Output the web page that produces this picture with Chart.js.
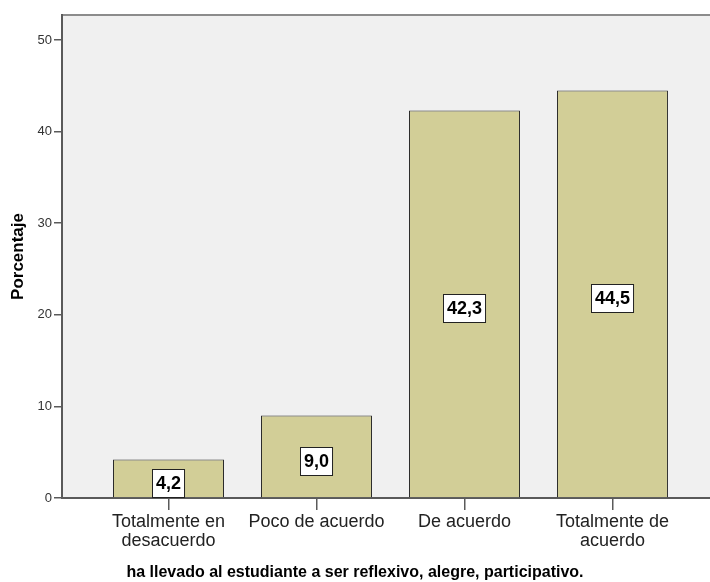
<!DOCTYPE html>
<html>
<head>
<meta charset="utf-8">
<script src="https://cdn.jsdelivr.net/npm/chart.js@4"></script>
<style>
  body { margin: 0; background: #fff; }
  #wrap { width: 710px; height: 582px; overflow: hidden; }
</style>
</head>
<body>
<div id="wrap"><canvas id="myChart" width="710" height="582"></canvas></div>
<script>
const categories = [
    ['Totalmente en', 'desacuerdo'],
    ['Poco de acuerdo'],
    ['De acuerdo'],
    ['Totalmente de', 'acuerdo']
];
const porcentajes = [4.2, 9.0, 42.3, 44.5];
const yTicks = [0, 10, 20, 30, 40, 50];
const xTitle = 'ha llevado al estudiante a ser reflexivo, alegre, participativo.';
const yTitle = 'Porcentaje';

const barFill = 'rgb(210,206,151)';
const axisColor = '#5a5a5a';

// grey plot background + top border
const frame = {
    id: 'frame',
    beforeDraw(chart) {
        const { ctx, chartArea: a } = chart;
        ctx.save();
        ctx.fillStyle = '#f0f0f0';
        ctx.fillRect(a.left, a.top, a.right - a.left, a.bottom - a.top);
        ctx.strokeStyle = '#8c8c8c';
        ctx.lineWidth = 2;
        ctx.beginPath();
        ctx.moveTo(a.left, a.top);
        ctx.lineTo(a.right, a.top);
        ctx.stroke();
        ctx.restore();
    }
};

// white boxes with the value roughly in the middle of each bar
const valueBoxes = {
    id: 'valueBoxes',
    afterDatasetsDraw(chart) {
        const { ctx } = chart;
        const yScale = chart.scales.y;
        const meta = chart.getDatasetMeta(0);
        ctx.save();
        ctx.font = 'bold 18px "Liberation Sans", Arial, sans-serif';
        ctx.textAlign = 'center';
        ctx.textBaseline = 'middle';
        meta.data.forEach((bar, i) => {
            const v = porcentajes[i];
            const txt = v.toFixed(1).replace('.', ',');
            const cx = bar.x;
            const cy = yScale.getPixelForValue(v / 2) + 4;
            const w = ctx.measureText(txt).width + 7;
            const h = 28;
            const x0 = Math.round(cx - w / 2) + 0.5;
            const y0 = Math.round(cy - h / 2) + 0.5;
            ctx.fillStyle = '#fff';
            ctx.fillRect(x0, y0, w, h);
            ctx.strokeStyle = '#222';
            ctx.lineWidth = 1;
            ctx.strokeRect(x0, y0, w, h);
            ctx.fillStyle = '#000';
            ctx.fillText(txt, cx, cy + 1);
        });
        ctx.restore();
    }
};

const chart = new Chart(document.getElementById('myChart'), {
    type: 'bar',
    data: {
        datasets: [{
            data: porcentajes.map((v, i) => ({ x: i + 1, y: v })),
            backgroundColor: barFill,
            borderColor: '#2a2a2a',
            borderWidth: 1,
            barPercentage: 0.75,
            categoryPercentage: 1
        }]
    },
    options: {
        responsive: false,
        animation: false,
        layout: { padding: { top: 15, left: 0, right: 0, bottom: 0 } },
        plugins: {
            legend: { display: false },
            tooltip: { enabled: false },
            title: {
                display: true,
                position: 'bottom',
                text: xTitle,
                color: '#000',
                padding: { top: 0, bottom: 0 },
                font: { family: '"Liberation Sans", Arial, sans-serif', size: 16, weight: 'bold', lineHeight: 1.2 }
            }
        },
        scales: {
            x: {
                type: 'linear',
                offset: false,
                min: 0.2804,
                max: 4.659,
                afterBuildTicks: s => { s.ticks = categories.map((c, i) => ({ value: i + 1 })); },
                afterFit: s => { s.height = 64.8; },
                ticks: {
                    callback: v => categories[v - 1],
                    color: '#222',
                    padding: 3,
                    maxRotation: 0,
                    autoSkip: false,
                    font: { family: '"Liberation Sans", Arial, sans-serif', size: 18, lineHeight: 1.05 }
                },
                grid: { offset: false, drawOnChartArea: false, drawTicks: true, tickLength: 12, color: axisColor, lineWidth: 1.5 },
                border: { color: axisColor, width: 2 }
            },
            y: {
                min: 0,
                max: 52.73,
                afterBuildTicks: s => { s.ticks = yTicks.map(v => ({ value: v })); },
                afterFit: s => { s.width = 62; },
                ticks: {
                    color: '#333',
                    padding: 2,
                    font: { family: '"Liberation Sans", Arial, sans-serif', size: 13 }
                },
                grid: { drawOnChartArea: false, drawTicks: true, tickLength: 8, color: axisColor, lineWidth: 1.5 },
                border: { color: axisColor, width: 2 },
                title: {
                    display: true,
                    text: yTitle,
                    color: '#000',
                    padding: { top: 8, bottom: 0 },
                    font: { family: '"Liberation Sans", Arial, sans-serif', size: 17, weight: 'bold', lineHeight: 1.2 }
                }
            }
        }
    },
    plugins: [frame, valueBoxes]
});
</script>
</body>
</html>
